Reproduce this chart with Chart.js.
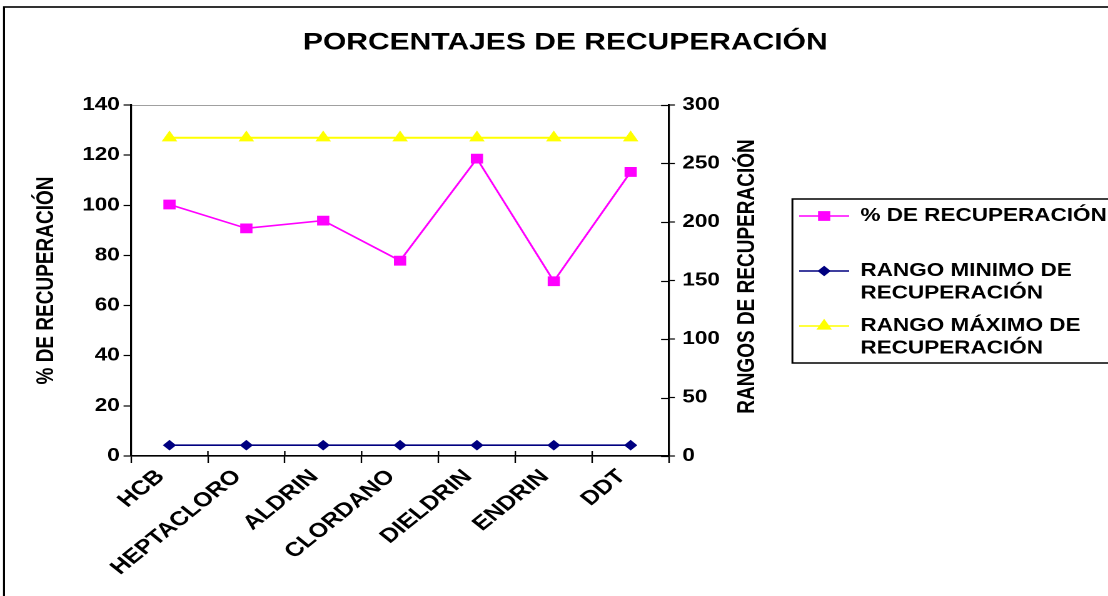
<!DOCTYPE html>
<html>
<head>
<meta charset="utf-8">
<script src="https://cdn.jsdelivr.net/npm/chart.js@4/dist/chart.umd.min.js"></script>
<style>
  html, body { margin: 0; padding: 0; background: #fff; overflow: hidden; }
  #wrap { width: 886px; height: 596px; transform: scaleX(1.2506); transform-origin: 0 0; }
</style>
</head>
<body>
<div id="wrap"><canvas id="chart" width="886" height="596"></canvas></div>
<script>
// Compounds on the category axis
const categories = ['HCB', 'HEPTACLORO', 'ALDRIN', 'CLORDANO', 'DIELDRIN', 'ENDRIN', 'DDT'];

// % de recuperación per compound (left axis)
const recovery = [100.3, 90.8, 93.9, 77.9, 118.6, 69.7, 113.3];

// Recovery range limits (right axis)
const rangeMin = [9.2, 9.2, 9.2, 9.2, 9.2, 9.2, 9.2];
const rangeMax = [272, 272, 272, 272, 272, 272, 272];

// Series names and their legend lines
const seriesNames = ['% DE RECUPERACIÓN', 'RANGO MINIMO DE RECUPERACIÓN', 'RANGO MÁXIMO DE RECUPERACIÓN'];
const legendLines = [
  ['% DE RECUPERACIÓN', ''],
  ['RANGO MINIMO DE', 'RECUPERACIÓN'],
  ['RANGO MÁXIMO DE', 'RECUPERACIÓN']
];

// Axis tick values
const leftTicks = [0, 20, 40, 60, 80, 100, 120, 140];
const rightTicks = [0, 50, 100, 150, 200, 250, 300];

// Texts
const chartTitle = 'PORCENTAJES DE RECUPERACIÓN';
const leftAxisTitle = '% DE RECUPERACIÓN';
const rightAxisTitle = 'RANGOS DE RECUPERACIÓN';

const FONT = 'Liberation Sans';
const LABEL_SIZE = 18;
const AXIS_TITLE_SIZE = 19;

Chart.defaults.font.family = FONT;
Chart.defaults.color = '#000';

// Frame, plot top edge, legend box, legend markers, right axis title, inner tick marks
const decorations = {
  id: 'decorations',
  afterLayout(chart) {
    // nudge the legend column a little below the plot centre
    chart.legend.top += 4;
    chart.legend.bottom += 4;
  },
  beforeDraw(chart) {
    const { ctx, chartArea: a } = chart;
    ctx.save();
    ctx.fillStyle = '#fff';
    ctx.fillRect(0, 0, chart.width, chart.height);
    ctx.strokeStyle = '#000';
    ctx.lineWidth = 1.6;
    ctx.strokeRect(3.2, 7, chart.width + 20, chart.height + 20);

    ctx.strokeStyle = '#a0a0a0';
    ctx.lineWidth = 1;
    ctx.beginPath();
    ctx.moveTo(a.left, a.top + 0.5);
    ctx.lineTo(a.right, a.top + 0.5);
    ctx.stroke();

    const lg = chart.legend;
    const hb = lg && lg.legendHitBoxes;
    if (hb && hb.length) {
      const last = hb[hb.length - 1];
      const top = hb[0].top - 8;
      const bottom = last.top + last.height + 1;
      ctx.strokeStyle = '#000';
      ctx.lineWidth = 1.5;
      ctx.strokeRect(lg.left + 4.6, top, chart.width, bottom - top);
    }
    ctx.restore();
  },
  afterDraw(chart) {
    const { ctx, chartArea: a } = chart;
    ctx.save();

    // markers over the legend lines
    const hb = chart.legend.legendHitBoxes;
    hb.forEach((b, i) => {
      const ds = chart.data.datasets[i];
      ctx.fillStyle = ds.pointBackgroundColor;
      ctx.strokeStyle = ds.pointBorderColor;
      ctx.lineWidth = 1;
      Chart.helpers.drawPoint(ctx, { pointStyle: ds.pointStyle, radius: ds.pointRadius, rotation: 0, borderWidth: 1 },
        b.left + 20, b.top + LABEL_SIZE / 2);
    });

    // tick marks crossing into the plot
    ctx.strokeStyle = '#000';
    ctx.lineWidth = 1.2;
    const y1 = chart.scales.y1;
    y1.ticks.forEach(t => {
      const y = Math.round(y1.getPixelForValue(t.value)) + 0.5;
      ctx.beginPath();
      ctx.moveTo(a.right - 6.4, y);
      ctx.lineTo(a.right, y);
      ctx.stroke();
    });
    const n = categories.length;
    for (let i = 0; i <= n; i++) {
      const x = a.left + i * (a.right - a.left) / n;
      ctx.beginPath();
      ctx.moveTo(x, a.bottom - 5);
      ctx.lineTo(x, a.bottom);
      ctx.stroke();
    }

    // right axis title, reading upward
    ctx.translate(597.6, (a.top + a.bottom) / 2 - 4);
    ctx.rotate(-Math.PI / 2);
    ctx.fillStyle = '#000';
    ctx.font = 'bold ' + AXIS_TITLE_SIZE + 'px "' + FONT + '"';
    ctx.textAlign = 'center';
    ctx.textBaseline = 'middle';
    ctx.fillText(rightAxisTitle, 0, 0);
    ctx.restore();
  }
};

new Chart(document.getElementById('chart'), {
  type: 'line',
  data: {
    labels: categories,
    datasets: [
      {
        label: seriesNames[0],
        data: recovery,
        yAxisID: 'y',
        borderColor: '#FF00FF',
        backgroundColor: '#FF00FF',
        pointBackgroundColor: '#FF00FF',
        pointBorderColor: '#FF00FF',
        borderWidth: 1.6,
        pointStyle: 'rect',
        pointRadius: 6.2,
        pointBorderWidth: 1,
        tension: 0
      },
      {
        label: seriesNames[1],
        data: rangeMin,
        yAxisID: 'y1',
        borderColor: '#000080',
        backgroundColor: '#000080',
        pointBackgroundColor: '#000080',
        pointBorderColor: '#000080',
        borderWidth: 1.6,
        pointStyle: 'rectRot',
        pointRadius: 4.6,
        pointBorderWidth: 1,
        tension: 0
      },
      {
        label: seriesNames[2],
        data: rangeMax,
        yAxisID: 'y1',
        borderColor: '#FFFF00',
        backgroundColor: '#FFFF00',
        pointBackgroundColor: '#FFFF00',
        pointBorderColor: '#FFFF00',
        borderWidth: 2,
        pointStyle: 'triangle',
        pointRadius: 6.2,
        pointBorderWidth: 1,
        tension: 0
      }
    ]
  },
  options: {
    responsive: false,
    animation: false,
    devicePixelRatio: 2,
    layout: { padding: { left: 18, right: 0, top: 0, bottom: 0 } },
    plugins: {
      title: {
        display: true,
        text: chartTitle,
        color: '#000',
        font: { family: FONT, size: 24, weight: 'bold' },
        padding: { top: 28.4, bottom: 47.8 }
      },
      legend: {
        display: true,
        position: 'right',
        align: 'center',
        fullSize: false,
        maxWidth: 257,
        labels: {
          boxWidth: 40,
          boxHeight: 0,
          padding: 10,
          color: '#000',
          font: { family: FONT, size: LABEL_SIZE, weight: 'bold', lineHeight: 1.25 },
          generateLabels(chart) {
            return chart.data.datasets.map((ds, i) => ({
              text: legendLines[i],
              fillStyle: 'rgba(0,0,0,0)',
              strokeStyle: ds.borderColor,
              lineWidth: 1.6,
              hidden: false,
              datasetIndex: i
            }));
          }
        }
      },
      tooltip: { enabled: false }
    },
    scales: {
      x: {
        type: 'category',
        offset: true,
        grid: { display: true, offset: true, drawOnChartArea: false, drawTicks: true, tickLength: 7, tickColor: '#000', tickWidth: 1.2 },
        border: { display: true, color: '#000', width: 1.6 },
        ticks: {
          autoSkip: false,
          maxRotation: 45,
          minRotation: 45,
          padding: 2,
          labelOffset: -7,
          color: '#000',
          font: { family: FONT, size: 20, weight: 'bold' }
        },
        afterFit(scale) { scale.height = 140; }
      },
      y: {
        position: 'left',
        min: leftTicks[0],
        max: leftTicks[leftTicks.length - 1],
        grid: { display: true, drawOnChartArea: false, drawTicks: true, tickLength: 6, tickColor: '#000', tickWidth: 1.2 },
        border: { display: true, color: '#000', width: 1.6 },
        ticks: {
          stepSize: leftTicks[1] - leftTicks[0],
          padding: 3,
          color: '#000',
          font: { family: FONT, size: LABEL_SIZE, weight: 'bold' }
        },
        title: {
          display: true,
          text: leftAxisTitle,
          color: '#000',
          font: { family: FONT, size: AXIS_TITLE_SIZE, weight: 'bold' },
          padding: { top: 8, bottom: 0 }
        },
        afterFit(scale) { scale.width = 86.8; }
      },
      y1: {
        position: 'right',
        min: rightTicks[0],
        max: rightTicks[rightTicks.length - 1],
        grid: { display: true, drawOnChartArea: false, drawTicks: true, tickLength: 4.6, tickColor: '#000', tickWidth: 1.2 },
        border: { display: true, color: '#000', width: 1.6 },
        ticks: {
          stepSize: rightTicks[1] - rightTicks[0],
          padding: 6,
          color: '#000',
          font: { family: FONT, size: LABEL_SIZE, weight: 'bold' }
        },
        afterFit(scale) { scale.width = 94; }
      }
    }
  },
  plugins: [decorations]
});
</script>
</body>
</html>
